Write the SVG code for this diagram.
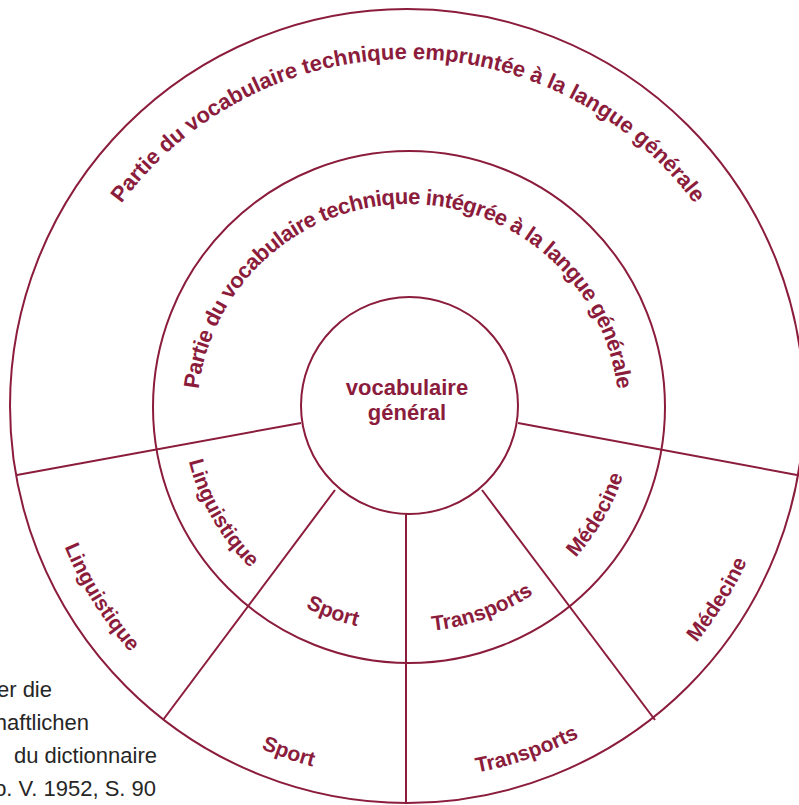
<svg xmlns="http://www.w3.org/2000/svg" width="799" height="805" viewBox="0 0 799 805">
<style>
  .ring { fill: none; stroke: #8b1c3c; stroke-width: 2; }
  .div { stroke: #8b1c3c; stroke-width: 2; fill: none; }
  .lbl { font-family: "Liberation Sans", Arial, sans-serif; font-weight: bold; fill: #8b1c3c; }
  .title { font-size: 22px; }
  .sect { font-size: 21px; }
  .cap { font-family: "Liberation Sans", Arial, sans-serif; font-size: 22px; fill: #262626; text-anchor: end; }
</style>
<defs>
  <path id="pOuterTitle" d="M 52 415 A 356 356 0 0 1 764 415"/>
  <path id="pMidTitle" d="M 197 415 A 211 211 0 0 1 619 415"/>
  <path id="pOutLing" d="M 40.5 351.4 A 372 372 0 0 0 295.4 759.6"/>
  <path id="pOutSport" d="M 88.3 598.1 A 373 373 0 0 0 541.7 754.2"/>
  <path id="pOutTrans" d="M 274.3 754.2 A 373 373 0 0 0 727.7 598.1"/>
  <path id="pOutMed" d="M 523.3 760.8 A 373 373 0 0 0 777.4 354.1"/>
  <path id="pInLing" d="M 185.4 366.8 A 226 226 0 0 0 330.7 618.4"/>
  <path id="pInSport" d="M 212.3 519 A 226 226 0 0 0 485.3 618.4"/>
  <path id="pInTrans" d="M 330.7 618.4 A 226 226 0 0 0 603.7 519"/>
  <path id="pInMed" d="M 485.3 618.4 A 226 226 0 0 0 630.6 366.8"/>
</defs>

<g id="outer-ring">
  <circle class="ring" cx="407" cy="406" r="397"/>
  <text class="lbl title" text-anchor="middle"><textPath href="#pOuterTitle" startOffset="50%" textLength="666" lengthAdjust="spacing">Partie du vocabulaire technique empruntée à la langue générale</textPath></text>
</g>

<g id="middle-ring">
  <circle class="ring" cx="409" cy="407" r="256"/>
  <text class="lbl title" text-anchor="middle"><textPath href="#pMidTitle" startOffset="50%" textLength="611" lengthAdjust="spacing">Partie du vocabulaire technique intégrée à la langue générale</textPath></text>
</g>

<g id="connectors">
  <line class="div" x1="301" y1="423" x2="17" y2="475"/>
  <line class="div" x1="518" y1="423" x2="797" y2="475"/>
  <line class="div" x1="335" y1="490" x2="163" y2="720"/>
  <line class="div" x1="482" y1="490" x2="655" y2="720"/>
  <line class="div" x1="406" y1="514" x2="406" y2="803"/>
</g>

<g id="center-node">
  <circle class="ring" cx="409.5" cy="405.5" r="108.5" fill="#fff"/>
  <text class="lbl title" x="407" y="395" text-anchor="middle">vocabulaire</text>
  <text class="lbl title" x="407" y="420" text-anchor="middle">général</text>
</g>

<g id="inner-linguistique"><text class="lbl sect" text-anchor="middle"><textPath href="#pInLing" startOffset="50%">Linguistique</textPath></text></g>
<g id="inner-sport"><text class="lbl sect" text-anchor="middle"><textPath href="#pInSport" startOffset="50%">Sport</textPath></text></g>
<g id="inner-transports"><text class="lbl sect" text-anchor="middle"><textPath href="#pInTrans" startOffset="50%">Transports</textPath></text></g>
<g id="inner-medecine"><text class="lbl sect" text-anchor="middle"><textPath href="#pInMed" startOffset="50%">Médecine</textPath></text></g>

<g id="outer-linguistique"><text class="lbl sect" text-anchor="middle"><textPath href="#pOutLing" startOffset="50%">Linguistique</textPath></text></g>
<g id="outer-sport"><text class="lbl sect" text-anchor="middle"><textPath href="#pOutSport" startOffset="50%">Sport</textPath></text></g>
<g id="outer-transports"><text class="lbl sect" text-anchor="middle"><textPath href="#pOutTrans" startOffset="50%">Transports</textPath></text></g>
<g id="outer-medecine"><text class="lbl sect" text-anchor="middle"><textPath href="#pOutMed" startOffset="50%">Médecine</textPath></text></g>

<g id="caption">
  <text class="cap" x="52" y="697">er die</text>
  <text class="cap" x="89" y="730">haftlichen</text>
  <text class="cap" x="157" y="763">du dictionnaire</text>
  <text class="cap" x="156" y="796">o. V. 1952, S. 90</text>
</g>
</svg>
